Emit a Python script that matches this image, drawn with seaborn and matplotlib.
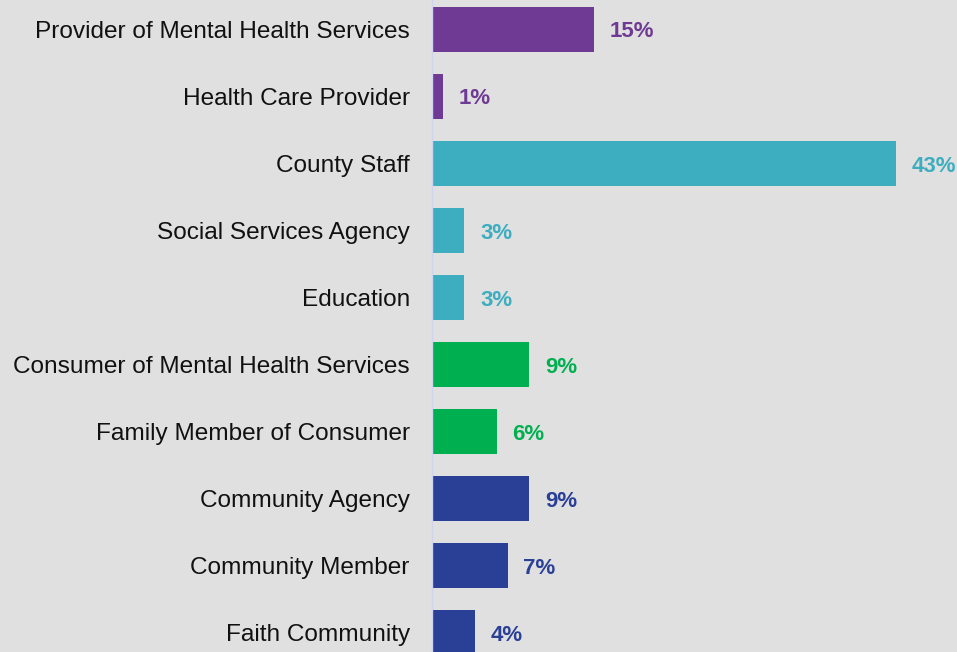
import numpy as np
import pandas as pd
import seaborn as sns
import matplotlib.pyplot as plt

categories = ['Provider of Mental Health Services', 'Health Care Provider',
              'County Staff', 'Social Services Agency', 'Education',
              'Consumer of Mental Health Services', 'Family Member of Consumer',
              'Community Agency', 'Community Member', 'Faith Community']
values = [15, 1, 43, 3, 3, 9, 6, 9, 7, 4]
bar_colors = ['#6f3a94', '#6f3a94', '#3dadc0', '#3dadc0', '#3dadc0',
              '#00b050', '#00b050', '#2a3f96', '#2a3f96', '#2a3f96']

sns.set_theme(style='white')
plt.rcParams['font.family'] = ['Liberation Sans', 'DejaVu Sans']

df = pd.DataFrame({'group': categories, 'pct': values})

fig = plt.figure(figsize=(9.57, 6.52), dpi=100)
fig.patch.set_facecolor('#e0e0e0')
ax = fig.add_axes([432 / 957, 0, 525 / 957, 1])
ax.set_facecolor('#e0e0e0')

sns.barplot(data=df, x='pct', y='group', hue='group', palette=bar_colors,
            legend=False, width=0.67, saturation=1, linewidth=0, ax=ax)

ax.set_xlim(0, 525 / 10.79)
ax.set_ylim(9.29, -0.44)

# value labels next to the bars
for i, (v, c) in enumerate(zip(values, bar_colors)):
    ax.text(v + 1.45, i, f'{v}%', color=c, fontsize=16, fontweight='bold',
            va='center_baseline', ha='left')

for s in ['top', 'right', 'bottom']:
    ax.spines[s].set_visible(False)
ax.spines['left'].set_color('#d0d4f0')
ax.spines['left'].set_linewidth(1)
ax.set_xticks([])
ax.set_xlabel('')
ax.set_ylabel('')
ax.tick_params(axis='y', length=0, pad=16, labelsize=17.6, labelcolor='#111111')

plt.savefig('out.png', dpi=100, facecolor=fig.get_facecolor())
